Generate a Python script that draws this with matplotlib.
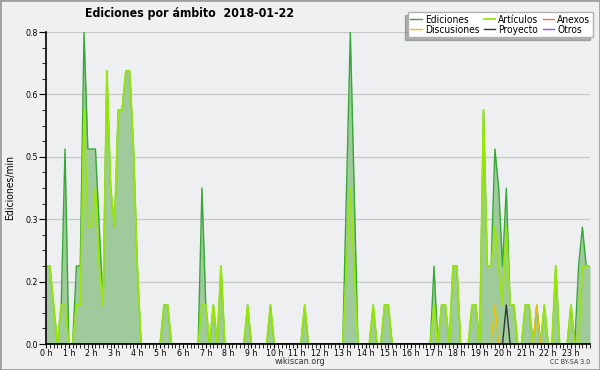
import numpy as np
import matplotlib
matplotlib.use("Agg")
import matplotlib.pyplot as plt
from matplotlib.ticker import FixedLocator, MultipleLocator, FormatStrFormatter
from matplotlib.patches import Rectangle

plt.rcParams["font.family"] = ["DejaVu Sans"]
plt.rcParams["font.stretch"] = "condensed"

# edits per minute, one value every 10 minutes (6 per hour), 00:00 .. 23:50
ediciones = [
    0.2, 0.2, 0.1, 0, 0.1, 0.5,      # 0 h
    0, 0, 0.2, 0.2, 0.8, 0.5,        # 1 h
    0.5, 0.5, 0.3, 0.1, 0.7, 0.4,    # 2 h
    0.3, 0.6, 0.6, 0.7, 0.7, 0.5,    # 3 h
    0.2, 0, 0, 0, 0, 0,              # 4 h
    0, 0.1, 0.1, 0, 0, 0,            # 5 h
    0, 0, 0, 0, 0, 0.4,              # 6 h
    0.1, 0, 0.1, 0, 0.2, 0,          # 7 h
    0, 0, 0, 0, 0, 0.1,              # 8 h
    0, 0, 0, 0, 0, 0.1,              # 9 h
    0, 0, 0, 0, 0, 0,                # 10 h
    0, 0, 0.1, 0, 0, 0,              # 11 h
    0, 0, 0, 0, 0, 0,                # 12 h
    0, 0.4, 0.8, 0.4, 0, 0,          # 13 h
    0, 0, 0.1, 0, 0, 0.1,            # 14 h
    0.1, 0, 0, 0, 0, 0,              # 15 h
    0, 0, 0, 0, 0, 0,                # 16 h
    0.2, 0, 0.1, 0.1, 0, 0.2,        # 17 h
    0.2, 0, 0, 0, 0.1, 0.1,          # 18 h
    0, 0.6, 0.2, 0.2, 0.5, 0.4,      # 19 h
    0.2, 0.4, 0.1, 0.1, 0, 0,        # 20 h
    0.1, 0.1, 0, 0.1, 0, 0.1,        # 21 h
    0, 0, 0.2, 0, 0, 0,              # 22 h
    0.1, 0, 0.2, 0.3, 0.2, 0.2,      # 23 h
]

articulos = [
    0.2, 0.2, 0.1, 0, 0.1, 0.1,      # 0 h
    0, 0, 0.1, 0.1, 0.6, 0.3,        # 1 h
    0.3, 0.4, 0.2, 0.1, 0.7, 0.4,    # 2 h
    0.3, 0.6, 0.6, 0.7, 0.7, 0.5,    # 3 h
    0.2, 0, 0, 0, 0, 0,              # 4 h
    0, 0.1, 0.1, 0, 0, 0,            # 5 h
    0, 0, 0, 0, 0, 0.1,              # 6 h
    0.1, 0, 0.1, 0, 0.2, 0,          # 7 h
    0, 0, 0, 0, 0, 0.1,              # 8 h
    0, 0, 0, 0, 0, 0.1,              # 9 h
    0, 0, 0, 0, 0, 0,                # 10 h
    0, 0, 0.1, 0, 0, 0,              # 11 h
    0, 0, 0, 0, 0, 0,                # 12 h
    0, 0.2, 0.4, 0.2, 0, 0,          # 13 h
    0, 0, 0.1, 0, 0, 0.1,            # 14 h
    0.1, 0, 0, 0, 0, 0,              # 15 h
    0, 0, 0, 0, 0, 0,                # 16 h
    0.1, 0, 0.1, 0.1, 0, 0.2,        # 17 h
    0.2, 0, 0, 0, 0.1, 0.1,          # 18 h
    0, 0.6, 0.2, 0.2, 0.3, 0.2,      # 19 h
    0.1, 0.3, 0.1, 0.1, 0, 0,        # 20 h
    0.1, 0.1, 0, 0, 0, 0.1,          # 21 h
    0, 0, 0.2, 0, 0, 0,              # 22 h
    0.1, 0, 0, 0.2, 0.2, 0.2,        # 23 h
]

# sparse series: {bin index: value}
discusiones = {118: 0.1, 129: 0.1}
proyecto = {121: 0.1}
anexos = {}
otros = {}

hour_labels = [f"{h} h" for h in range(24)]
y_major = [0, 0.16, 0.32, 0.48, 0.64, 0.8]

times = np.arange(len(ediciones)) / 6.0


def dense(d):
    arr = np.zeros(len(times))
    for k, v in d.items():
        arr[k] = v
    return arr


fig = plt.figure(figsize=(6, 3.7), dpi=100, facecolor="#f0f0f0")
ax = fig.add_axes([46 / 600, 26 / 370, 544 / 600, 312 / 370])
ax.set_facecolor("#eeeff1")

ax.fill_between(times, ediciones, color="#9fca9c", lw=0, zorder=1)
ax.plot(times, ediciones, color="#36a836", lw=1.0, label="Ediciones", zorder=3)
ax.plot(times, articulos, color="#99e60a", lw=1.3, label="Artículos", zorder=4)
ax.plot(times, dense(anexos), color="#f07850", lw=1.0, label="Anexos", zorder=2)
ax.plot(times, dense(discusiones), color="#f5c000", lw=1.0, label="Discusiones", zorder=5)
ax.plot(times, dense(proyecto), color="#333333", lw=1.0, label="Proyecto", zorder=5)
ax.plot(times, dense(otros), color="#9050f0", lw=1.0, label="Otros", zorder=2)

ax.set_xlim(times[0], times[-1])
ax.set_ylim(0, 0.8)

ax.xaxis.set_major_locator(FixedLocator(range(24)))
ax.set_xticklabels(hour_labels, fontsize=6.3)
ax.xaxis.set_minor_locator(MultipleLocator(1 / 6))
ax.yaxis.set_major_locator(FixedLocator(y_major))
ax.yaxis.set_major_formatter(FormatStrFormatter("%.1f"))
ax.yaxis.set_minor_locator(MultipleLocator(0.04))
ax.tick_params(axis="y", which="major", length=5, labelsize=6.3, pad=1)
ax.tick_params(axis="y", which="minor", length=3)
ax.tick_params(axis="x", which="both", length=3, labelsize=6.3, pad=0.5)

ax.grid(axis="y", color="#c8c8c8", lw=0.9)
ax.set_axisbelow(True)
for s in ["top", "right"]:
    ax.spines[s].set_visible(False)
for s in ["left", "bottom"]:
    ax.spines[s].set_linewidth(1.2)
    ax.spines[s].set_zorder(6)

ax.set_ylabel("Ediciones/min", fontsize=7.5, labelpad=7)

fig.text(85 / 600, 1 - 14 / 370, "Ediciones por ámbito  2018-01-22",
         fontsize=8.8, fontweight="bold", va="center", ha="left")

h, l = ax.get_legend_handles_labels()
order = [0, 3, 1, 4, 2, 5]
leg = fig.legend([h[i] for i in order], [l[i] for i in order], ncol=3,
                 loc="upper right", bbox_to_anchor=(593 / 600, 1 - 12 / 370),
                 borderaxespad=0,
                 fontsize=7.3, frameon=True, fancybox=False, framealpha=1,
                 edgecolor="#b0b0b0", handlelength=1.1, handletextpad=0.35,
                 columnspacing=0.4, labelspacing=0.0, borderpad=0.25,
                 shadow={"ox": -2.2, "oy": -2.2, "color": "#707070"})
leg.set_zorder(10)

fig.text(0.5, 1 - 362 / 370, "wikiscan.org", fontsize=6.5, ha="center",
         va="center", color="#333333")
fig.text(590 / 600, 1 - 362 / 370, "CC BY-SA 3.0", fontsize=5, ha="right",
         va="center", color="#333333")

fig.patches.append(Rectangle((0, 0), 1, 1, transform=fig.transFigure,
                             fill=False, edgecolor="#a0a0a0", lw=2))

fig.savefig("out.png", dpi=100, facecolor=fig.get_facecolor())
